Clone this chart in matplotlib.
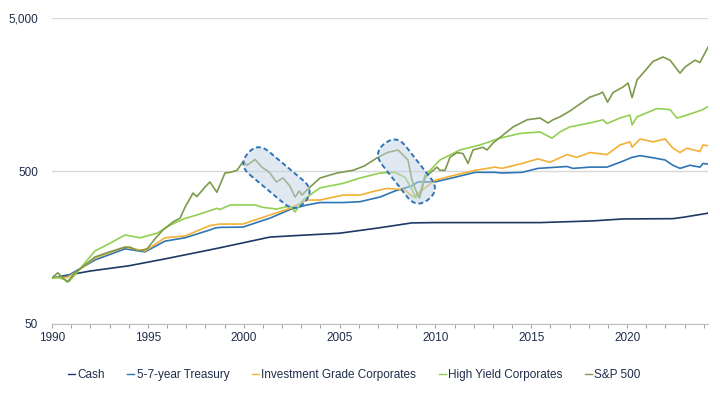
import matplotlib
matplotlib.use('Agg')
import matplotlib.pyplot as plt
import matplotlib.ticker as ticker
from matplotlib import font_manager
from matplotlib.patches import FancyBboxPatch
from matplotlib.transforms import Affine2D, ScaledTranslation

# growth of 100 (year, index level)
cash_years = [1990.0, 1992.0, 1994.0, 1996.0, 1998.5, 2000.0, 2001.37, 2003.0, 2005.0,
              2007.0, 2008.78, 2010.0, 2015.46, 2018.22, 2019.79, 2022.39, 2023.0, 2024.22]
cash_vals = [100, 111, 120, 134, 155, 170, 185, 190, 196,
             212, 229, 230, 230, 236, 243, 244, 250, 265]

tsy_years = [1990.0, 1990.8, 1992.24, 1993.81, 1994.85, 1995.89, 1996.94, 1998.24, 1998.5,
             1998.76, 1999.96, 2001.37, 2002.42, 2003.3, 2003.98, 2005.18, 2006.07, 2007.11,
             2007.89, 2008.78, 2009.09, 2009.98, 2011.02, 2012.07, 2013.11, 2013.47, 2014.52,
             2015.35, 2016.86, 2017.18, 2018.06, 2018.95, 2019.63, 2020.26, 2020.68, 2021.36,
             2021.98, 2022.39, 2022.76, 2023.28, 2023.8, 2023.96, 2024.22]
tsy_vals = [100, 103, 131, 155, 148, 174, 183, 206, 212,
            214, 215, 246, 280, 300, 311, 311, 315, 338,
            370, 400, 424, 424, 455, 490, 490, 485, 490,
            520, 535, 520, 530, 530, 570, 614, 630, 610,
            590, 545, 520, 545, 530, 560, 555]

ig_years = [1990.0, 1990.8, 1991.2, 1992.24, 1993.81, 1994.85, 1995.89, 1996.94, 1998.24,
            1998.76, 1999.96, 2001.37, 2002.42, 2003.3, 2003.98, 2005.18, 2006.07, 2006.85,
            2007.5, 2008.41, 2008.83, 2009.2, 2009.98, 2011.02, 2012.07, 2013.11, 2013.47,
            2014.52, 2015.35, 2015.98, 2016.86, 2017.39, 2018.06, 2018.95, 2019.63, 2020.15,
            2020.26, 2020.68, 2021.36, 2021.98, 2022.39, 2022.76, 2023.12, 2023.8, 2023.96,
            2024.22]
ig_vals = [100, 101, 108, 135, 159, 150, 183, 188, 220,
           225, 225, 258, 285, 323, 323, 348, 348, 370,
           385, 376, 338, 366, 435, 470, 505, 530, 520,
           560, 600, 570, 640, 614, 660, 640, 740, 775,
           715, 810, 775, 810, 705, 660, 705, 670, 740,
           730]

hy_years = [1990.0, 1990.3, 1990.9, 1991.2, 1992.24, 1993.0, 1993.81, 1994.6, 1995.48,
            1996.15, 1996.94, 1997.56, 1998.6, 1998.76, 1999.3, 2000.6, 2000.95, 2001.7,
            2002.42, 2002.68, 2003.09, 2003.98, 2005.18, 2006.07, 2007.11, 2007.89, 2008.41,
            2008.78, 2008.95, 2009.2, 2009.46, 2009.72, 2010.24, 2011.28, 2012.33, 2013.37,
            2014.41, 2015.46, 2016.08, 2016.5, 2017.0, 2018.06, 2018.74, 2018.95, 2019.63,
            2020.15, 2020.26, 2020.52, 2021.56, 2022.24, 2022.6, 2023.12, 2023.96, 2024.22]
hy_vals = [100, 101, 95, 105, 150, 168, 191, 183, 196,
           221, 245, 258, 285, 280, 300, 300, 290, 282,
           295, 270, 323, 388, 415, 450, 485, 490, 455,
           380, 333, 360, 470, 505, 590, 686, 740, 820,
           880, 900, 820, 900, 970, 1030, 1080, 1020, 1110,
           1160, 1000, 1130, 1280, 1260, 1110, 1160, 1260, 1320]

sp_years = [1990.0, 1990.3, 1990.8, 1991.2, 1992.24, 1993.0, 1993.81, 1994.07, 1994.5,
            1994.96, 1995.37, 1995.79, 1996.31, 1996.68, 1996.94, 1997.36, 1997.55, 1997.72,
            1998.0, 1998.24, 1998.6, 1999.02, 1999.29, 1999.65, 1999.96, 2000.17, 2000.59,
            2000.95, 2001.2, 2001.37, 2001.7, 2002.05, 2002.4, 2002.68, 2002.9, 2003.04,
            2003.3, 2003.98, 2004.87, 2005.7, 2006.3, 2006.59, 2007.0, 2007.5, 2008.05,
            2008.57, 2008.78, 2009.09, 2009.17, 2009.46, 2009.72, 2010.08, 2010.24, 2010.5,
            2010.76, 2011.13, 2011.44, 2011.7, 2011.96, 2012.48, 2012.69, 2013.0, 2013.53,
            2014.05, 2014.78, 2015.46, 2015.87, 2016.13, 2016.5, 2017.0, 2018.06, 2018.58,
            2018.72, 2018.98, 2019.27, 2019.79, 2020.05, 2020.26, 2020.52, 2020.83, 2021.35,
            2021.87, 2022.24, 2022.76, 2023.02, 2023.54, 2023.8, 2024.22]
sp_vals = [100, 108, 94, 108, 137, 148, 159, 159, 150,
           155, 180, 206, 232, 246, 290, 359, 340, 359,
           395, 424, 363, 485, 490, 505, 575, 545, 595,
           530, 505, 485, 424, 450, 400, 338, 370, 348,
           376, 450, 485, 505, 540, 570, 614, 660, 686,
           590, 435, 345, 333, 455, 485, 530, 505, 505,
           614, 660, 650, 560, 686, 715, 686, 760, 860,
           970, 1080, 1110, 1030, 1080, 1130, 1230, 1520, 1600,
           1640, 1410, 1630, 1770, 1880, 1510, 1970, 2180, 2600,
           2780, 2650, 2180, 2390, 2650, 2560, 3220]

series = [
    ('Cash', cash_years, cash_vals, '#1f3864'),
    ('5-7-year Treasury', tsy_years, tsy_vals, '#2e75b6'),
    ('Investment Grade Corporates', ig_years, ig_vals, '#f2b134'),
    ('High Yield Corporates', hy_years, hy_vals, '#92d050'),
    ('S&P 500', sp_years, sp_vals, '#7d9a4c'),
]

installed = {f.name for f in font_manager.fontManager.ttflist}
if 'Liberation Sans Narrow' in installed:
    plt.rcParams['font.family'] = ['Liberation Sans Narrow', 'DejaVu Sans']
    fs = 10
else:
    plt.rcParams['font.family'] = ['Liberation Sans', 'DejaVu Sans']
    fs = 8.5
text_color = '#1f2d4a'

fig = plt.figure(figsize=(7.2, 3.93), dpi=100)
ax = fig.add_axes([52 / 720, 1 - 324 / 393, 656 / 720, 306 / 393])

for name, xs, ys, color in series:
    ax.plot(xs, ys, color=color, lw=1.2, label=name, zorder=2)

ax.set_yscale('log')
ax.set_ylim(50, 5000)
ax.set_xlim(1990, 2024.22)
ax.set_autoscale_on(False)

ax.set_yticks([50, 500, 5000])
ax.yaxis.set_minor_locator(ticker.NullLocator())
ax.yaxis.set_major_formatter(ticker.FuncFormatter(lambda v, p: f'{v:,.0f}'))
ax.set_xticks(range(1990, 2025, 5))
ax.set_xticks(range(1990, 2025), minor=True)

ax.tick_params(axis='y', length=0, pad=10, labelsize=fs, labelcolor=text_color)
ax.tick_params(axis='x', which='both', length=3, color='#a6a6a6', width=0.8,
               pad=3, labelsize=fs, labelcolor=text_color)
ax.yaxis.grid(True, color='#d9d9d9', lw=1)
ax.set_axisbelow(True)
for side in ['top', 'right', 'left']:
    ax.spines[side].set_visible(False)
ax.spines['bottom'].set_color('#bfbfbf')


def highlight(year, value, length, width, angle):
    # rounded capsule, size in inches, centred on a data point
    box = FancyBboxPatch((-length / 2, -width / 2), length, width,
                         boxstyle=f'round,pad=0,rounding_size={width / 2}',
                         facecolor='#c3d3e4', alpha=0.5, edgecolor='none', zorder=3)
    edge = FancyBboxPatch((-length / 2, -width / 2), length, width,
                          boxstyle=f'round,pad=0,rounding_size={width / 2}',
                          facecolor='none', edgecolor='#2e75b6', lw=1.4,
                          linestyle=(0, (2.5, 1.5)), zorder=4)
    tr = (Affine2D().rotate_deg(angle) + fig.dpi_scale_trans
          + ScaledTranslation(year, value, ax.transData))
    for p in (box, edge):
        p.set_transform(tr)
        ax.add_patch(p)


highlight(2001.71, 453, 0.75, 0.30, -40)
highlight(2008.49, 496, 0.71, 0.30, -52)

handles, labels = ax.get_legend_handles_labels()
leg = fig.legend(handles, labels, loc='center', bbox_to_anchor=(0.492, 0.046), ncol=5,
                 frameon=False, handlelength=0.6, handletextpad=0.2, columnspacing=1.9,
                 fontsize=fs)
for t in leg.get_texts():
    t.set_color(text_color)
for h in leg.legend_handles:
    h.set_linewidth(1)

fig.savefig('out.png', dpi=100)
